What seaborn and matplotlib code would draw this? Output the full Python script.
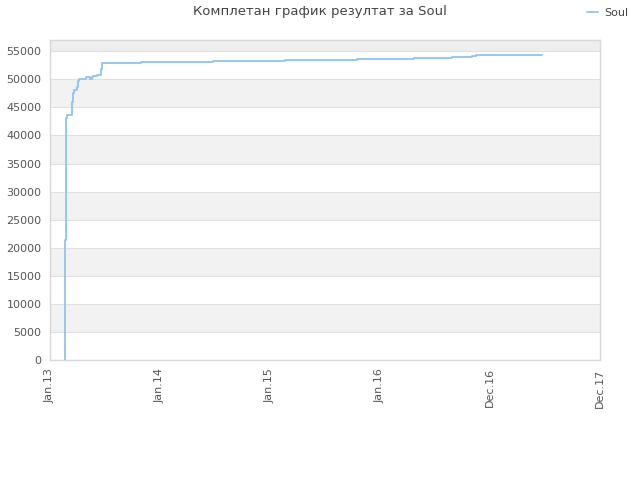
import numpy as np
import pandas as pd
import seaborn as sns
import matplotlib.pyplot as plt
from matplotlib.lines import Line2D

# days since Jan.13 and cumulative score for Soul
days = [0, 49, 50, 52, 58, 72, 75, 77, 81, 88, 92, 97, 120, 133, 138, 144, 157, 168,
        170, 172, 177, 302, 542, 780, 1019, 1208, 1333, 1399, 1413, 1633]
score = [0, 0, 21400, 43040, 43630, 46010, 46600, 47500, 48100, 48690, 49760, 50120,
         50360, 50120, 50360, 50540, 50710, 50770, 51790, 52860, 52975, 53150, 53330,
         53500, 53650, 53860, 54040, 54210, 54390, 54390]
tick_labels = ["Jan.13", "Jan.14", "Jan.15", "Jan.16", "Dec.16", "Dec.17"]
y_ticks = list(range(0, 55001, 5000))

df = pd.DataFrame({"day": days, "score": score})
df = df[df["day"] >= 49]

sns.set_style("white")
plt.rcParams['font.family'] = ['DejaVu Sans']

fig = plt.figure(figsize=(6.4, 4.8), dpi=100)
ax = fig.add_axes([50 / 640, 120 / 480, 550 / 640, 320 / 480])

ymax = 57000
# alternating bands
for i, lo in enumerate(y_ticks[:-1]):
    if i % 2 == 1:
        ax.axhspan(lo, lo + 5000, color="#f2f2f2", zorder=0, lw=0)
ax.axhspan(55000, ymax, color="#eeeeee", zorder=0, lw=0)
for t in y_ticks:
    ax.axhline(t, color="#e0e0e0", lw=0.8, zorder=1)

sns.lineplot(data=df, x="day", y="score", ax=ax, color="#8fc3f2", lw=1.3,
             drawstyle="steps-post", zorder=3)

ax.set_xlim(0, 365 * 5)
ax.set_ylim(0, ymax)
ax.set_xticks([365 * i for i in range(len(tick_labels))])
ax.set_xticklabels(tick_labels, rotation=90, color="#555555", fontsize=8)
ax.set_yticks(y_ticks)
ax.set_yticklabels([str(t) for t in y_ticks], color="#555555", fontsize=8)
ax.tick_params(length=0, pad=6)
ax.set_xlabel("")
ax.set_ylabel("")
for s in ax.spines.values():
    s.set_color("#d8d8d8")
    s.set_linewidth(1)

fig.text(0.5, 1 - 12 / 480, "Комплетан график резултат за Soul", ha="center",
         va="center", fontsize=9.5, color="#444444")
handle = Line2D([], [], color="#8fc3f2", lw=1.3)
fig.legend([handle], ["Soul"], loc="center right",
           bbox_to_anchor=(1 - 12 / 640, 1 - 13 / 480),
           frameon=False, fontsize=8, handlelength=1.0, handletextpad=0.5,
           labelcolor="#444444", borderaxespad=0, borderpad=0)

fig.savefig("out.png", dpi=100)
